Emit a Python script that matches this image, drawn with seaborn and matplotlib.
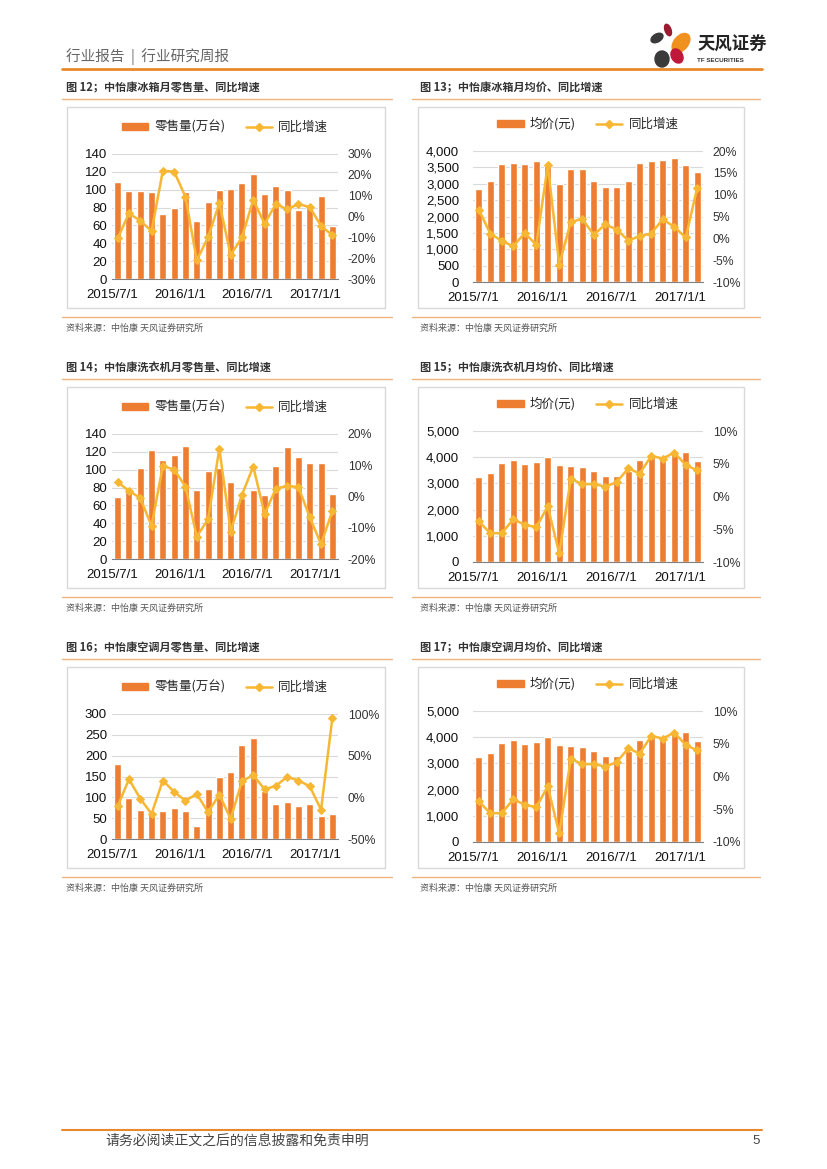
import numpy as np
import matplotlib
matplotlib.use("Agg")
import matplotlib.pyplot as plt
import seaborn as sns
from matplotlib.patches import Rectangle, Ellipse, Patch
from matplotlib.lines import Line2D
from matplotlib.ticker import FuncFormatter

# ---- data (monthly, 2015/7 - 2017/2) ----
months = ["2015/7", "2015/8", "2015/9", "2015/10", "2015/11", "2015/12",
          "2016/1", "2016/2", "2016/3", "2016/4", "2016/5", "2016/6",
          "2016/7", "2016/8", "2016/9", "2016/10", "2016/11", "2016/12",
          "2017/1", "2017/2"]
date_ticks = ["2015/7/1", "2016/1/1", "2016/7/1", "2017/1/1"]

fridge_sales = [109, 99, 99, 97, 73, 79, 97, 65, 86, 100, 101, 108, 118, 95, 104, 100, 77, 82, 93, 59]
fridge_sales_yoy = [-10.5, 1.5, -2, -7, 22, 21.5, 9.5, -21, -10, 6.5, -18.5, -10, 8, -3.5, 6, 3.5, 6, 4.5, -4.5, -9]
fridge_price = [2850, 3080, 3600, 3640, 3590, 3680, 3600, 2990, 3460, 3460, 3090, 2910, 2900, 3070, 3620, 3690, 3740, 3780, 3570, 3350]
fridge_price_yoy = [6.6, 1.1, -0.6, -1.8, 1.2, -1.5, 16.7, -6, 3.7, 4.5, 0.8, 3.2, 2, -0.5, 0.5, 1.1, 4.4, 2.6, 0.2, 11.6]

washer_sales = [70, 76, 102, 122, 111, 116, 127, 77, 99, 102, 86, 68, 77, 72, 104, 126, 114, 108, 108, 73]
washer_sales_yoy = [4.6, 1.8, -0.5, -9.4, 9.8, 8.6, 3.2, -12.8, -7.3, 15.3, -11.2, 0.5, 9.6, -5.6, 2.5, 3.4, 3, -6.6, -15.3, -4.6]
washer_price = [3240, 3380, 3770, 3880, 3750, 3800, 4010, 3710, 3660, 3630, 3460, 3280, 3300, 3480, 3900, 4050, 4000, 4200, 4210, 3860]
washer_price_yoy = [-3.8, -5.6, -5.6, -3.5, -4.3, -4.7, -1.5, -8.7, 2.7, 1.9, 1.9, 1.5, 2.2, 4.3, 3.5, 6.2, 5.8, 6.7, 4.8, 4.0]

ac_sales = [181, 98, 70, 62, 68, 75, 67, 31, 121, 150, 160, 225, 243, 115, 84, 89, 80, 83, 56, 60]
ac_sales_yoy = [-10.9, 21.8, -1.6, -19.8, 20.2, 6.5, -4, 4, -17.7, 3.2, -25.8, 19.4, 26.6, 9.7, 13.7, 24.6, 20.2, 13.3, -14.9, 95.2]
ac_price = [3240, 3380, 3770, 3880, 3750, 3800, 4010, 3710, 3660, 3630, 3460, 3280, 3300, 3480, 3900, 4050, 4000, 4200, 4210, 3860]
ac_price_yoy = [-3.8, -5.6, -5.6, -3.5, -4.3, -4.7, -1.5, -8.7, 2.7, 1.9, 1.9, 1.5, 2.2, 4.3, 3.5, 6.2, 5.8, 6.7, 4.8, 4.0]

BAR = "#ED7D31"
LINE = "#F7B733"
ORANGE = "#E8892B"
SEP = "#F2B47E"

sns.set_style("white")
plt.rcParams["font.family"] = ["Liberation Sans", "Noto Sans CJK SC", "DejaVu Sans"]
CJK = ["Noto Sans CJK SC", "DejaVu Sans"]

W, H = 827, 1169
fig = plt.figure(figsize=(W / 100, H / 100), dpi=100)

# page overlay in pixel coordinates
page = fig.add_axes([0, 0, 1, 1], zorder=0)
page.set_xlim(0, W)
page.set_ylim(H, 0)
page.axis("off")

# header
page.text(66, 57, "行业报告  |  行业研究周报", fontsize=10.5, color="#666666", family=CJK, va="center")
page.plot([62, 762], [69, 69], color=ORANGE, lw=2)
for (cx, cy, w, h, a, c) in [(668, 30, 6, 12, -20, "#9B1B30"),
                             (681, 43, 14, 22, 40, "#F0901E"),
                             (657, 38, 8, 13, 60, "#3A3A3A"),
                             (662, 59, 14, 16, 0, "#3A3A3A"),
                             (677, 56, 11, 15, -30, "#C0183A")]:
    page.add_patch(Ellipse((cx, cy), w, h, angle=a, color=c))
page.text(697, 45, "天风证券", fontsize=12.5, weight="bold", color="#222222", family=CJK, va="center")
page.text(697, 61, "TF SECURITIES", fontsize=4.5, weight="bold", color="#333333", va="center")

# footer
page.plot([62, 762], [1130, 1130], color=ORANGE, lw=1.5)
page.text(105, 1141, "请务必阅读正文之后的信息披露和免责申明", fontsize=10, color="#444444", family=CJK, va="center")
page.text(752, 1141, "5", fontsize=9.5, color="#444444", va="center")


def comma(v, pos):
    return f"{v:,.0f}"


def pct(v, pos):
    return f"{v:.0f}%"


def draw_chart(col, row, title, bar_label, bars, yoy, ylim, ystep, rlim, rstep, use_comma):
    dy = row * 280
    if col == 0:
        lx, sx0, sx1 = 66, 62, 392
        bx0, bx1 = 67, 385
        px0, px1, py0, py1 = 112, 338, 154, 279
        lpad, rpad = 3.6, 7
    else:
        lx, sx0, sx1 = 420, 412, 760
        bx0, bx1 = 418, 744
        px0, px1, py0, py1 = 473, 703, 151, 282
        lpad, rpad = 10, 7
    py0 += dy
    py1 += dy

    page.text(lx, 88 + dy, title, fontsize=8, weight="bold", color="#333333", family=CJK, va="center")
    page.plot([sx0, sx1], [99 + dy, 99 + dy], color=SEP, lw=1)
    page.add_patch(Rectangle((bx0, 107 + dy), bx1 - bx0, 201, facecolor="white", edgecolor="#D9D9D9", lw=1))
    page.plot([sx0, sx1], [317 + dy, 317 + dy], color=SEP, lw=1)
    page.text(lx, 328 + dy, "资料来源：中怡康 天风证券研究所", fontsize=6.5, color="#555555", family=CJK, va="center")

    ax = fig.add_axes([px0 / W, 1 - py1 / H, (px1 - px0) / W, (py1 - py0) / H], zorder=2)
    ax.set_facecolor("none")
    xpos = np.arange(len(bars)) + 0.5
    sns.barplot(x=xpos, y=bars, ax=ax, color=BAR, saturation=1, width=0.62, native_scale=True)
    ax.set_xlim(0, len(bars))
    ax.set_ylim(*ylim)
    ax.set_yticks(np.arange(ylim[0], ylim[1] + 1, ystep))
    if use_comma:
        ax.yaxis.set_major_formatter(FuncFormatter(comma))
    ax.set_xticks([0, 6, 12, 18])
    ax.set_xticklabels(date_ticks)
    ax.tick_params(axis="x", length=4, width=0.8, color="#808080", pad=3, labelsize=9.5, labelcolor="#111111", direction="out")
    ax.tick_params(axis="y", length=0, pad=lpad, labelsize=9.5, labelcolor="#111111")
    ax.yaxis.grid(True, color="#D9D9D9", lw=0.8)
    ax.set_axisbelow(True)
    for s in ["top", "right", "left"]:
        ax.spines[s].set_visible(False)
    ax.spines["bottom"].set_color("#808080")
    ax.spines["bottom"].set_linewidth(0.8)
    ax.set_xlabel("")
    ax.set_ylabel("")

    ax2 = ax.twinx()
    sns.lineplot(x=xpos, y=yoy, ax=ax2, color=LINE, lw=1.8, marker="D", markersize=4.2,
                 markeredgecolor=LINE, legend=False)
    ax2.set_ylim(*rlim)
    ax2.set_yticks(np.arange(rlim[0], rlim[1] + 1, rstep))
    ax2.yaxis.set_major_formatter(FuncFormatter(pct))
    ax2.tick_params(axis="y", length=0, pad=rpad, labelsize=8.8, labelcolor="#333333")
    for s in ax2.spines.values():
        s.set_visible(False)
    ax2.grid(False)
    ax2.set_ylabel("")

    handles = [Patch(facecolor=BAR, edgecolor=BAR),
               Line2D([0], [0], color=LINE, lw=1.8, marker="D", markersize=4.2)]
    ax.legend(handles, [bar_label, "同比增速"], loc="center", ncol=2, frameon=False,
              bbox_to_anchor=(0.5, 1 + 27 / (py1 - py0)),
              handlelength=2.1, handleheight=0.5, columnspacing=1.6, handletextpad=0.5,
              prop={"family": CJK, "size": 9})


draw_chart(0, 0, "图 12；中怡康冰箱月零售量、同比增速", "零售量(万台)", fridge_sales, fridge_sales_yoy,
           (0, 140), 20, (-30, 30), 10, False)
draw_chart(1, 0, "图 13；中怡康冰箱月均价、同比增速", "均价(元)", fridge_price, fridge_price_yoy,
           (0, 4000), 500, (-10, 20), 5, True)
draw_chart(0, 1, "图 14；中怡康洗衣机月零售量、同比增速", "零售量(万台)", washer_sales, washer_sales_yoy,
           (0, 140), 20, (-20, 20), 10, False)
draw_chart(1, 1, "图 15；中怡康洗衣机月均价、同比增速", "均价(元)", washer_price, washer_price_yoy,
           (0, 5000), 1000, (-10, 10), 5, True)
draw_chart(0, 2, "图 16；中怡康空调月零售量、同比增速", "零售量(万台)", ac_sales, ac_sales_yoy,
           (0, 300), 50, (-50, 100), 50, False)
draw_chart(1, 2, "图 17；中怡康空调月均价、同比增速", "均价(元)", ac_price, ac_price_yoy,
           (0, 5000), 1000, (-10, 10), 5, True)

fig.savefig("out.png", dpi=100)
